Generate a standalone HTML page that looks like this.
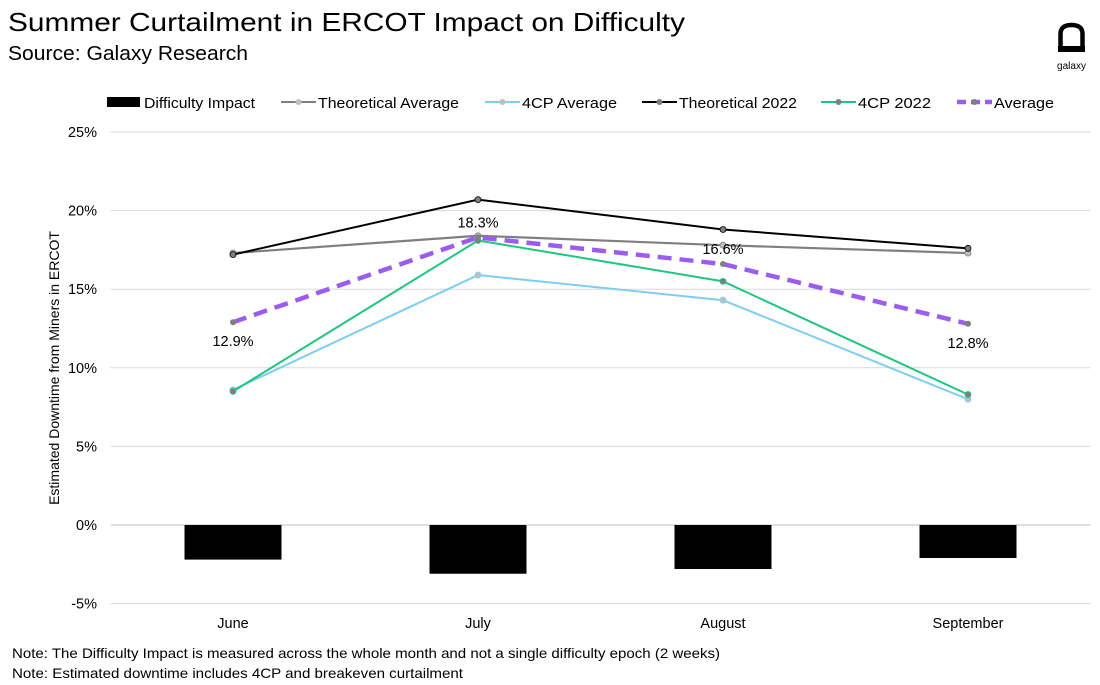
<!DOCTYPE html>
<html><head><meta charset="utf-8">
<style>
body{margin:0;background:#fff;font-family:"Liberation Sans",sans-serif;}
#wrap{position:relative;width:1100px;height:685px;overflow:hidden;}
</style></head>
<body>
<div id="wrap">
<svg id="chart" width="1100" height="685" xmlns="http://www.w3.org/2000/svg">
<text x="8" y="31" font-size="26" textLength="677" lengthAdjust="spacingAndGlyphs" fill="#000">Summer Curtailment in ERCOT Impact on Difficulty</text>
<text x="8" y="60" font-size="20" textLength="240" lengthAdjust="spacingAndGlyphs" fill="#000">Source: Galaxy Research</text>
<g>
<path d="M1060.5,50 L1060.5,34 Q1060.5,25 1071.5,25 Q1082.5,25 1082.5,34 L1082.5,50" fill="none" stroke="#000" stroke-width="4.5"/>
<rect x="1058" y="46" width="27" height="6" fill="#000"/>
<text x="1071.5" y="69" font-size="10" text-anchor="middle" fill="#000">galaxy</text>
</g>
<g id="legend"></g>
<g id="grid"></g>
<g id="yaxis"></g>
<g id="xaxis"></g>
<g id="bars"></g>
<g id="lines"></g>
<text transform="translate(59,368) rotate(-90)" font-size="14" text-anchor="middle" fill="#000">Estimated Downtime from Miners in ERCOT</text>
<text x="12" y="658" font-size="14" textLength="708" lengthAdjust="spacingAndGlyphs" fill="#000">Note: The Difficulty Impact is measured across the whole month and not a single difficulty epoch (2 weeks)</text>
<text x="12" y="678" font-size="14" textLength="451" lengthAdjust="spacingAndGlyphs" fill="#000">Note: Estimated downtime includes 4CP and breakeven curtailment</text>
</svg>
</div>
<script>
const categories=["June","July","August","September"];
const difficultyImpact=[-2.2,-3.1,-2.8,-2.1];
const theoreticalAverage=[17.3,18.4,17.8,17.3];
const cpAverage=[8.6,15.9,14.3,8.0];
const theoretical2022=[17.2,20.7,18.8,17.6];
const cp2022=[8.5,18.1,15.5,8.3];
const averageSeries=[12.9,18.3,16.6,12.8];
const yTicks=[-5,0,5,10,15,20,25];

const NS="http://www.w3.org/2000/svg";
const left=110.5,right=1090.5,step=(right-left)/categories.length;
const xs=i=>left+step*(i+0.5);
const y=v=>525-v*(393/25);
function mk(tag,attrs,parent){const e=document.createElementNS(NS,tag);for(const k in attrs)e.setAttribute(k,attrs[k]);parent.appendChild(e);return e;}
const grid=document.getElementById('grid'),yaxis=document.getElementById('yaxis'),xaxis=document.getElementById('xaxis');
yTicks.forEach(t=>{
 const l=mk('line',{x1:left,x2:right,y1:y(t),y2:y(t),stroke:t===0?'#bfbfbf':'#d9d9d9','stroke-width':1},grid);
 
 
 const tx=mk('text',{x:97,y:y(t)+5,'font-size':14.5,'text-anchor':'end',fill:'#000'},yaxis);
 tx.textContent=t+'%';
 
 
});
categories.forEach((c,i)=>{
 const tx=mk('text',{x:xs(i),y:628,'font-size':14.5,'text-anchor':'middle',fill:'#000'},xaxis);
 tx.textContent=c;
 
 
});
const bars=document.getElementById('bars');
difficultyImpact.forEach((v,i)=>{
 const r=mk('rect',{x:xs(i)-48.5,y:Math.min(y(0),y(v)),width:97,height:Math.abs(y(v)-y(0)),fill:'#000'},bars);
 
 
});
const lines=document.getElementById('lines');
const series=[
 {d:theoreticalAverage,c:'#7f7f7f',w:2.2,m:'#bfbfbf',name:'theoretical-average'},
 {d:cpAverage,c:'#7fcdf0',w:2,m:'#bfbfbf',name:'4cp-average'},
 {d:theoretical2022,c:'#000',w:2,m:'#7f7f7f',name:'theoretical-2022'},
 {d:cp2022,c:'#1fc67f',w:2,m:'#7f7f7f',name:'4cp-2022'},
 {d:averageSeries,c:'#9b5cf0',w:4.5,m:'#7f7f7f',dash:'14 8',name:'average'}
];
series.forEach(s=>{
 const p=mk('polyline',{points:s.d.map((v,i)=>xs(i)+','+y(v)).join(' '),fill:'none',stroke:s.c,'stroke-width':s.w},lines);
 if(s.dash)p.setAttribute('stroke-dasharray',s.dash);
 
 
 s.d.forEach((v,i)=>{
  const c=mk('circle',{cx:xs(i),cy:y(v),r:3,fill:s.m,stroke:s.dash?'none':s.c,'stroke-width':0.8},lines);
  
  
 });
});
const labelOffsets=[24,-10,-10,24];
averageSeries.forEach((v,i)=>{
 const t=mk('text',{x:xs(i),y:y(v)+labelOffsets[i],'font-size':14.5,'text-anchor':'middle',fill:'#000'},lines);
 t.textContent=v.toFixed(1)+'%';
 
 
});
const legend=document.getElementById('legend');
const legItems=[
 {t:'Difficulty Impact',x:107,bar:true,w:111},
 {t:'Theoretical Average',x:281,c:'#7f7f7f',m:'#bfbfbf',w:141},
 {t:'4CP Average',x:485,c:'#7fcdf0',m:'#bfbfbf',w:95},
 {t:'Theoretical 2022',x:642,c:'#000',m:'#7f7f7f',w:118},
 {t:'4CP 2022',x:821,c:'#1fc67f',m:'#7f7f7f',w:73},
 {t:'Average',x:957,c:'#9b5cf0',m:'#7f7f7f',dash:true,w:60}
];
legItems.forEach(li=>{
 const g=mk('g',{},legend);
 
 
 if(li.bar){mk('rect',{x:li.x,y:97,width:33,height:10,fill:'#000'},g);}
 else{
  const l=mk('line',{x1:li.x,x2:li.x+35,y1:102,y2:102,stroke:li.c,'stroke-width':li.dash?4.5:2},g);
  if(li.dash)l.setAttribute('stroke-dasharray','9 5');
  mk('circle',{cx:li.x+17.5,cy:102,r:3,fill:li.m},g);
 }
 const t=mk('text',{x:li.x+37,y:108,'font-size':15,fill:'#000',textLength:li.w,lengthAdjust:'spacingAndGlyphs'},g);
 t.textContent=li.t;
});
</script>
</body></html>
